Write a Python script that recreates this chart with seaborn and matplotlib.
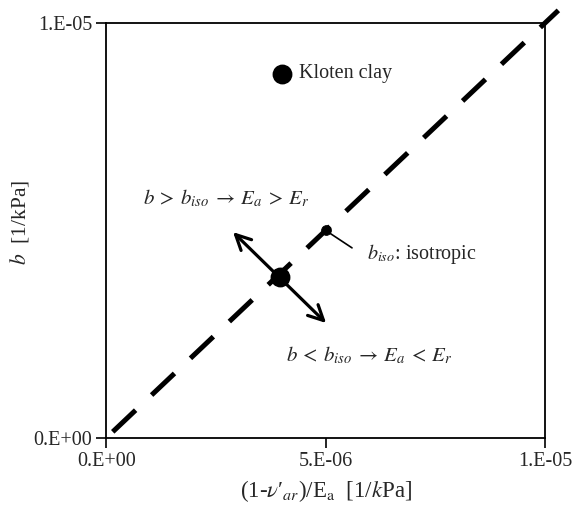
import numpy as np
import pandas as pd
import matplotlib
matplotlib.use("Agg")
import matplotlib.pyplot as plt
import seaborn as sns

# isotropic line b = (1-v'ar)/Ea
iso_x = [0.15e-6, 1.03e-5]
iso_y = [0.15e-6, 1.03e-5]

# big points: Kloten clay (legend marker) and the anisotropic sample
big_x = [4.0e-6, 3.95e-6]
big_y = [8.77e-6, 3.87e-6]

# small point b_iso
iso_pt_x = [5.0e-6]
iso_pt_y = [5.0e-6]

# tips of the double arrow
arrow_up = (2.89e-6, 4.96e-6)
arrow_down = (5.01e-6, 2.77e-6)

x_ticks = [0.0, 5.0e-6, 1.0e-5]
x_tick_labels = ["0.E+00", "5.E-06", "1.E-05"]
y_ticks = [0.0, 1.0e-5]
y_tick_labels = ["0.E+00", "1.E-05"]

sns.set_theme(style="white")
plt.rcParams["font.family"] = ["Liberation Serif", "DejaVu Serif"]
plt.rcParams["mathtext.fontset"] = "stix"

fig = plt.figure(figsize=(5.8, 5.07), dpi=100)
ax = fig.add_axes([0.183, 0.136, 0.757, 0.819])

line_df = pd.DataFrame({"x": iso_x, "y": iso_y})
sns.lineplot(data=line_df, x="x", y="y", ax=ax, color="black", lw=3.6,
             dashes=False)
ln = ax.lines[-1]
ln.set_dashes((6.3, 4.4))
ln.set_dash_capstyle("butt")
ln.set_clip_on(False)

sns.scatterplot(x=big_x, y=big_y, ax=ax, color="black", s=175,
                edgecolor="black", zorder=5)
sns.scatterplot(x=iso_pt_x, y=iso_pt_y, ax=ax, color="black", s=50,
                edgecolor="black", zorder=5)

# double arrow through the sample point
ax.annotate("", xy=arrow_up, xytext=arrow_down,
            arrowprops=dict(arrowstyle="<->,head_length=0.9,head_width=0.45",
                            color="black", lw=2.3, shrinkA=0, shrinkB=0),
            zorder=4)

# leader line to b_iso label
ax.plot([5.0e-6, 5.6e-6], [5.0e-6, 4.58e-6], color="black", lw=1.2)

fs = 14.5
ax.text(4.4e-6, 8.77e-6, "Kloten clay", fontsize=fs, va="center", ha="left")
ax.text(0.85e-6, 5.78e-6,
        r"$b\:>\:b_{iso}\:\rightarrow\:E_a\:>\:E_r$", fontsize=15,
        va="center", ha="left")
ax.text(5.95e-6, 4.43e-6, r"$b_{iso}$: isotropic", fontsize=fs,
        va="center", ha="left")
ax.text(4.1e-6, 2.0e-6,
        r"$b\:<\:b_{iso}\:\rightarrow\:E_a\:<\:E_r$", fontsize=15,
        va="center", ha="left")

ax.set_xlim(0, 1.0e-5)
ax.set_ylim(0, 1.0e-5)
ax.set_xticks(x_ticks)
ax.set_xticklabels(x_tick_labels)
ax.set_yticks(y_ticks)
ax.set_yticklabels(y_tick_labels)
ax.tick_params(axis="both", direction="out", length=7, width=1.2,
               labelsize=14.5, color="black", bottom=True, left=True, pad=3)
for sp in ax.spines.values():
    sp.set_color("black")
    sp.set_linewidth(1.3)

ax.set_xlabel("(1-$\\mathit{\\nu}$′$_{ar}$)/E$_\\mathrm{a}$  [1/$k$Pa]",
              fontsize=16.5, labelpad=5)
ax.set_ylabel(r"$b$  [1/kPa]", fontsize=15.5)
ax.yaxis.set_label_coords(-0.17, 0.52)

fig.savefig("out.png", dpi=100)
